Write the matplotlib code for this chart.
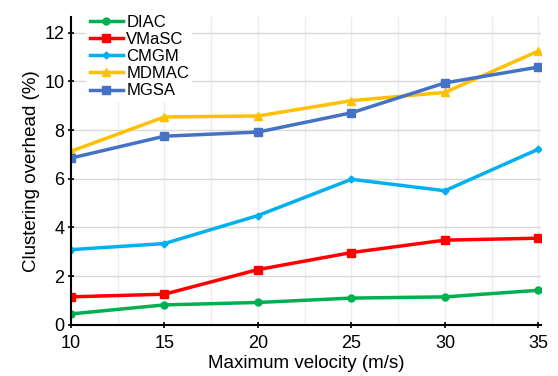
import numpy as np
import matplotlib.pyplot as plt

plt.rcParams['font.family'] = ['Liberation Sans', 'DejaVu Sans']

# данные
velocity = [10, 15, 20, 25, 30, 35]
diac = [0.45, 0.82, 0.92, 1.10, 1.15, 1.42]
vmasc = [1.15, 1.26, 2.27, 2.97, 3.48, 3.56]
cmgm = [3.09, 3.34, 4.49, 5.98, 5.51, 7.22]
mdmac = [7.13, 8.54, 8.58, 9.21, 9.55, 11.25]
mgsa = [6.85, 7.75, 7.92, 8.71, 9.94, 10.59]

fig = plt.figure(figsize=(5.58, 3.76), dpi=100)
ax = fig.add_axes([0.127, 0.136, 0.843, 0.819])

ax.plot(velocity, diac, '-o', color='#00B050', lw=2.5, ms=5, label='DIAC')
ax.plot(velocity, vmasc, '-s', color='#FF0000', lw=2.5, ms=5.5, label='VMaSC')
ax.plot(velocity, cmgm, '-D', color='#00B0F0', lw=2.5, ms=3.5, label='CMGM')
ax.plot(velocity, mdmac, '-^', color='#FFC000', lw=2.5, ms=6, label='MDMAC')
ax.plot(velocity, mgsa, '-s', color='#4472C4', lw=2.5, ms=6, label='MGSA')

ax.set_xlim(10, 35.15)
ax.set_ylim(0, 12.65)
ax.set_xticks([10, 15, 20, 25, 30, 35])
ax.set_yticks([0, 2, 4, 6, 8, 10, 12])
ax.set_xticks(np.arange(12.5, 35, 5), minor=True)
ax.tick_params(which='minor', length=0)
ax.tick_params(which='major', direction='inout', length=5, width=1.2, labelsize=13)
ax.tick_params(axis='x', pad=5)
ax.tick_params(axis='y', pad=2)

# сетка
ax.grid(axis='y', which='major', color='#d9d9d9', lw=1)
ax.grid(axis='x', which='both', color='#ececec', lw=1)
ax.set_axisbelow(True)

for s in ['top', 'right']:
    ax.spines[s].set_visible(False)
for s in ['left', 'bottom']:
    ax.spines[s].set_linewidth(1.5)

ax.set_xlabel('Maximum velocity (m/s)', fontsize=13.5, labelpad=2)
ax.set_ylabel('Clustering overhead (%)', fontsize=13.5, labelpad=3)

leg = ax.legend(loc='upper left', bbox_to_anchor=(0.015, 1.045), fontsize=12,
                frameon=True, fancybox=False, handlelength=2.0,
                handletextpad=0.2, labelspacing=0.13, borderpad=0.2)
leg.get_frame().set_facecolor('white')
leg.get_frame().set_edgecolor('none')
leg.get_frame().set_alpha(1)

fig.savefig('out.png', dpi=100)
